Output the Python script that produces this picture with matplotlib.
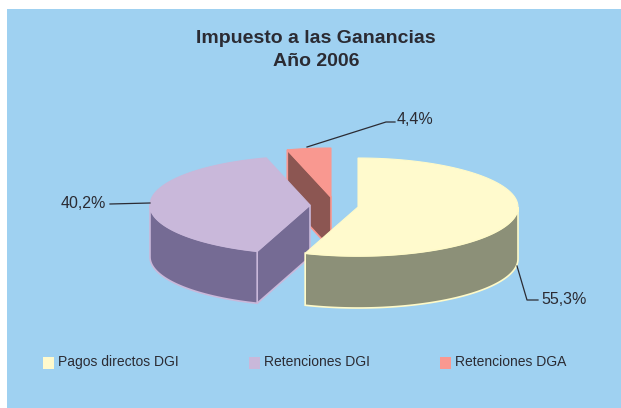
import numpy as np
import matplotlib
matplotlib.use("Agg")
import matplotlib.pyplot as plt
from matplotlib.patches import Polygon, Rectangle

title = "Impuesto a las Ganancias\nAño 2006"
categories = ["Pagos directos DGI", "Retenciones DGI", "Retenciones DGA"]
values = [55.3, 40.2, 4.4]
labels = ["55,3%", "40,2%", "4,4%"]
top_colors = ["#FFFACD", "#C9B8DA", "#F99890"]
side_colors = ["#8C9078", "#756B94", "#8C5652"]
edge_colors = ["#FFFAC8", "#C9B8DA", "#F99890"]
centers = [(358, 207), (310, 205), (331, 197)]

BG = "#9FD1F1"
TEXT = "#2B2B33"
RX, RY, DEPTH = 160, 49, 52

plt.rcParams["font.family"] = ["Liberation Sans", "DejaVu Sans"]


def rim(center, a0, a1):
    # clock angle in degrees, 0 at the top going clockwise
    t = np.radians(np.linspace(a0, a1, 90))
    return np.column_stack([center[0] + RX * np.sin(t), center[1] - RY * np.cos(t)])


def draw_slice(ax, center, a0, a1, top, side, edge, z):
    c = np.array(center, dtype=float)
    down = np.array([0, DEPTH])
    outer = rim(center, a0, a1)

    # cut faces, only those turned to the viewer
    if np.sin(np.radians(a0)) < -1e-6:
        p = outer[0]
        ax.add_patch(Polygon([c, p, p + down, c + down], fc=side, ec=edge, lw=1.2, zorder=z))
    if np.sin(np.radians(a1)) > 1e-6:
        p = outer[-1]
        ax.add_patch(Polygon([c, p, p + down, c + down], fc=side, ec=edge, lw=1.2, zorder=z))

    # front wall
    lo, hi = max(a0, 90), min(a1, 270)
    if lo < hi:
        wall = rim(center, lo, hi)
        ax.add_patch(Polygon(np.vstack([wall, wall[::-1] + down]),
                             fc=side, ec=edge, lw=1.2, zorder=z + 0.1))

    ax.add_patch(Polygon(np.vstack([c, outer]), fc=top, ec=edge, lw=0.8, zorder=z + 0.2))


fig = plt.figure(figsize=(6.21, 4.08), dpi=100, facecolor="white")
ax = fig.add_axes([0, 0, 1, 1])
ax.set_xlim(0, 621)
ax.set_ylim(408, 0)
ax.axis("off")
ax.add_patch(Rectangle((7, 9), 614, 399, fc=BG, ec="none", zorder=0))

ax.text(316, 50, title, ha="center", va="center", fontsize=14, fontweight="bold",
        color=TEXT, linespacing=1.45)

# back slices first so the others cover them
total = sum(values)
ends = np.cumsum(values) / total * 360
starts = np.concatenate([[0], ends[:-1]])
for i, z in ((2, 1), (1, 2), (0, 3)):
    draw_slice(ax, centers[i], starts[i], ends[i], top_colors[i], side_colors[i], edge_colors[i], z)

# leader lines and labels
ax.plot([517, 527, 538], [266, 300, 300], color=TEXT, lw=0.9, zorder=5)
ax.text(541, 299, labels[0], ha="left", va="center", fontsize=11.5, color=TEXT)
ax.plot([110, 150], [204, 203], color=TEXT, lw=0.9, zorder=5)
ax.text(106, 204, labels[1], ha="right", va="center", fontsize=11.5, color=TEXT)
ax.plot([307, 386, 395], [147, 122, 122], color=TEXT, lw=0.9, zorder=5)
ax.text(397, 120, labels[2], ha="left", va="center", fontsize=11.5, color=TEXT)

# legend
for x, name, color in zip((43, 249, 440), categories, top_colors):
    ax.add_patch(Rectangle((x, 357), 11, 12, fc=color, ec="none", zorder=5))
    ax.text(x + 15, 362, name, ha="left", va="center", fontsize=10, color=TEXT)

fig.savefig("out.png", dpi=100, facecolor="white")
